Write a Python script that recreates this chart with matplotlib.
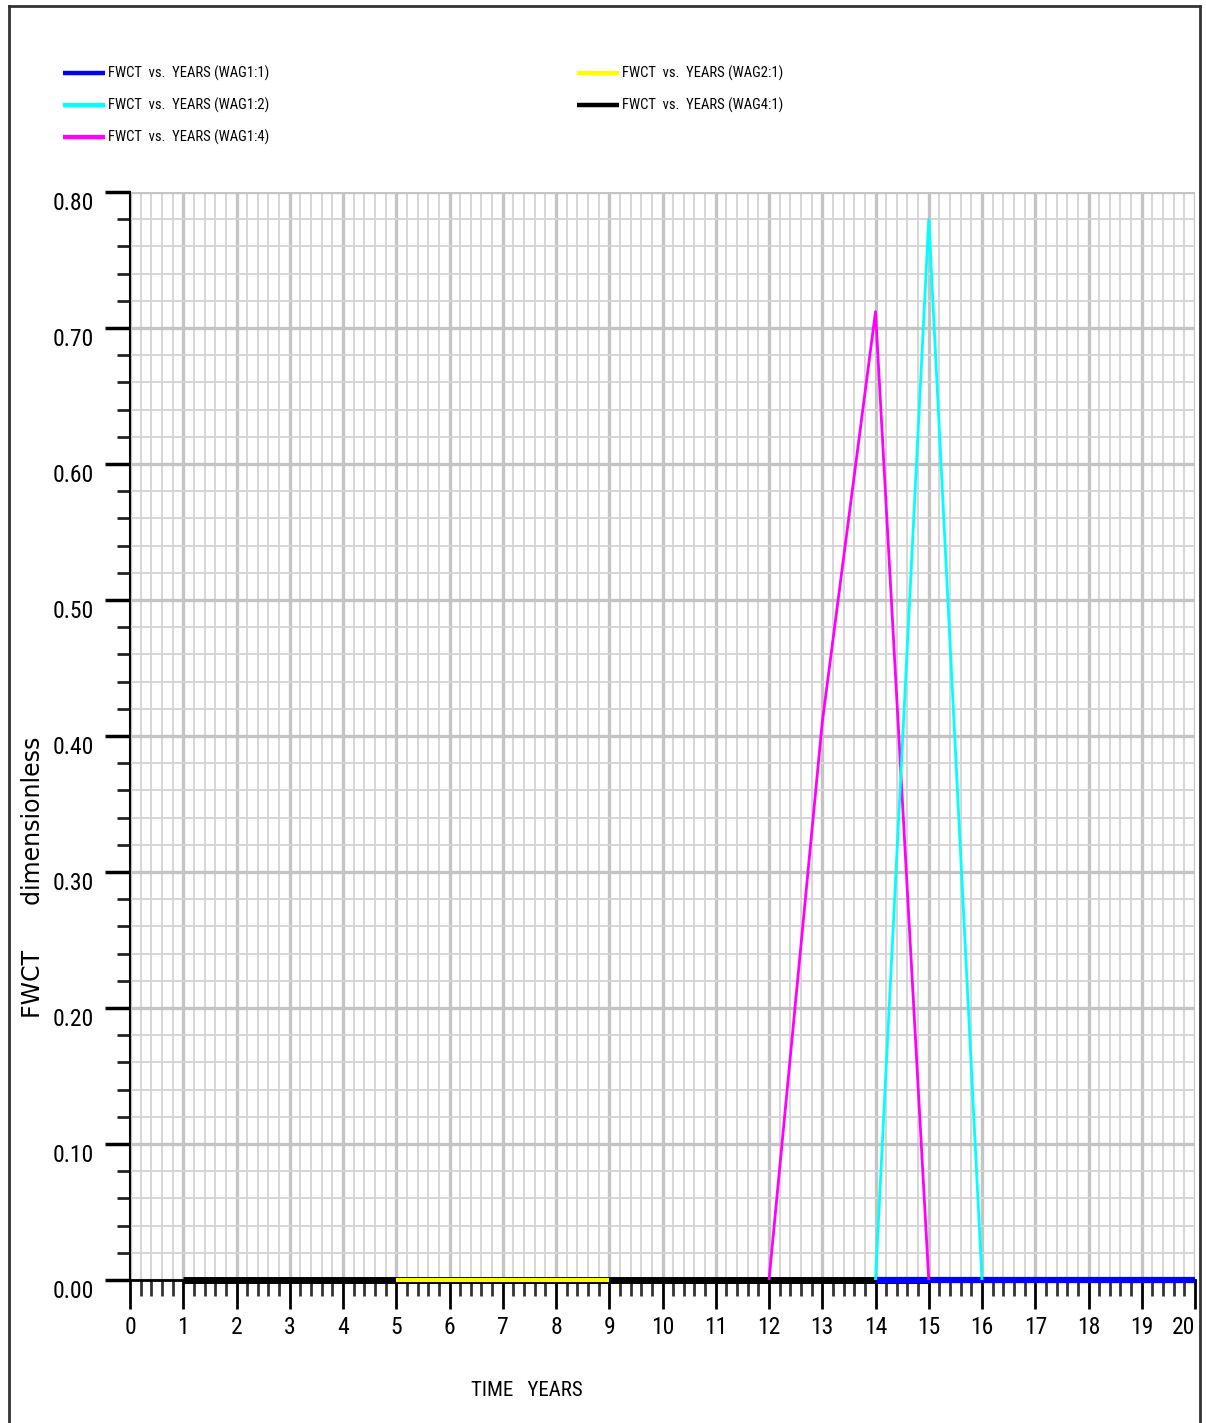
import matplotlib
matplotlib.use("Agg")
import matplotlib.pyplot as plt
from matplotlib import font_manager
from matplotlib.lines import Line2D
from matplotlib.ticker import MultipleLocator, FixedLocator

# ---------------- data ----------------
years_wag11 = [14, 15, 16, 17, 18, 19, 20]
fwct_wag11 = [0, 0, 0, 0, 0, 0, 0]

years_wag12 = [14, 15, 16]
fwct_wag12 = [0.0, 0.78, 0.0]

years_wag14 = [12, 13, 14, 15]
fwct_wag14 = [0.0, 0.41, 0.712, 0.0]

years_wag21 = [5, 6, 7, 8, 9]
fwct_wag21 = [0, 0, 0, 0, 0]

years_wag41 = [1, 2, 3, 4, 5, 6, 7, 8, 9, 10, 11, 12, 13, 14, 15]
fwct_wag41 = [0, 0, 0, 0, 0, 0, 0, 0, 0, 0, 0, 0, 0, 0, 0]

series_labels = ["FWCT  vs.  YEARS (WAG1:1)", "FWCT  vs.  YEARS (WAG1:2)",
                 "FWCT  vs.  YEARS (WAG1:4)", "FWCT  vs.  YEARS (WAG2:1)",
                 "FWCT  vs.  YEARS (WAG4:1)"]
series_colors = ["#0000ff", "#00ffff", "#ff00ff", "#ffff00", "#000000"]

x_ticks = list(range(0, 21))
y_ticks = [0.0, 0.1, 0.2, 0.3, 0.4, 0.5, 0.6, 0.7, 0.8]

# ---------------- fonts ----------------
names = {f.name for f in font_manager.fontManager.ttflist}
narrow = next((n for n in ["Liberation Sans Narrow", "Roboto Condensed",
                           "Open Sans Condensed", "Liberation Sans"] if n in names),
              "DejaVu Sans")

W, H = 1206, 1423
fig = plt.figure(figsize=(W / 100, H / 100), dpi=100)
fig.patch.set_facecolor("white")

ax_l, ax_r, ax_b, ax_t = 130, 1195, 1280, 192
ax = fig.add_axes([ax_l / W, (H - ax_b) / H, (ax_r - ax_l) / W, (ax_b - ax_t) / H])
ax.set_xlim(0, 20)
ax.set_ylim(0, 0.8)

# grid
ax.xaxis.set_major_locator(FixedLocator(x_ticks))
ax.yaxis.set_major_locator(FixedLocator(y_ticks))
ax.xaxis.set_minor_locator(MultipleLocator(0.2))
ax.yaxis.set_minor_locator(MultipleLocator(0.02))
ax.grid(which="minor", color="#d6d6d6", linewidth=1.4, zorder=0)
ax.grid(which="major", color="#c4c4c4", linewidth=2.4, zorder=0)
ax.set_axisbelow(True)

for s in ["top", "right"]:
    ax.spines[s].set_visible(False)
ax.spines["left"].set_linewidth(1.5)
ax.spines["bottom"].set_linewidth(2.0)
ax.spines["left"].set_zorder(1)

ax.tick_params(axis="y", which="major", direction="out", length=18, width=2.5,
               color="black", pad=8, labelsize=17)
ax.tick_params(axis="y", which="minor", direction="out", length=9.5, width=2.0,
               color="#222222")
ax.tick_params(axis="x", which="major", direction="out", length=21, width=2.0,
               color="black", pad=5, labelsize=17)
ax.tick_params(axis="x", which="minor", direction="out", length=11.5, width=2.0,
               color="#333333")

ax.set_xticks(x_ticks)
ax.set_xticklabels([str(v) for v in x_ticks], family=narrow)
xl = ax.get_xticklabels()
xl[-1].set_horizontalalignment("right")
ax.set_yticks(y_ticks)
ax.set_yticklabels(["%.2f" % v for v in y_ticks], family=narrow)
for lbl in ax.get_yticklabels():
    lbl.set_verticalalignment("top")

# series
lw = 2.0
ax.plot(years_wag41, fwct_wag41, color=series_colors[4], lw=5, zorder=3,
        clip_on=False, solid_capstyle="butt")
ax.plot(years_wag21, fwct_wag21, color=series_colors[3], lw=3, zorder=4,
        clip_on=False, solid_capstyle="butt")
ax.plot(years_wag11, fwct_wag11, color=series_colors[0], lw=4.5, zorder=4,
        clip_on=False, solid_capstyle="butt")
ax.plot(years_wag14, fwct_wag14, color=series_colors[2], lw=lw, zorder=5)
ax.plot(years_wag12, fwct_wag12, color=series_colors[1], lw=lw, zorder=5)

# axis labels
ax.set_xlabel("TIME   YEARS", family=narrow, fontsize=15)
ax.xaxis.set_label_coords((527 - ax_l) / (ax_r - ax_l), (ax_b - 1391) / (ax_b - ax_t))
ax.xaxis.label.set_verticalalignment("center")
ax.set_ylabel("FWCT      dimensionless", family="DejaVu Sans", fontsize=17)
ax.yaxis.set_label_coords((33 - ax_l) / (ax_r - ax_l), (ax_b - 877) / (ax_b - ax_t))
ax.yaxis.label.set_verticalalignment("center")

# legend (manual)
leg_pos = [(63, 73), (63, 105), (63, 137), (577, 73), (577, 105)]
for (lx, ly), lab, col in zip(leg_pos, series_labels, series_colors):
    fig.add_artist(Line2D([lx / W, (lx + 42) / W], [1 - ly / H, 1 - ly / H],
                          transform=fig.transFigure, color=col, lw=3.2,
                          solid_capstyle="butt"))
    fig.text((lx + 45) / W, 1 - ly / H, lab, family=narrow, fontsize=10.5,
             ha="left", va="center")

# outer frame
frame_kw = dict(transform=fig.transFigure, color="#333333", lw=2)
fig.add_artist(Line2D([9 / W, 1200 / W], [1 - 6 / H, 1 - 6 / H], **frame_kw))
fig.add_artist(Line2D([9 / W, 9 / W], [0, 1 - 6 / H], **frame_kw))
fig.add_artist(Line2D([1200 / W, 1200 / W], [0, 1 - 6 / H], **frame_kw))

fig.savefig("out.png", dpi=100, facecolor="white")
